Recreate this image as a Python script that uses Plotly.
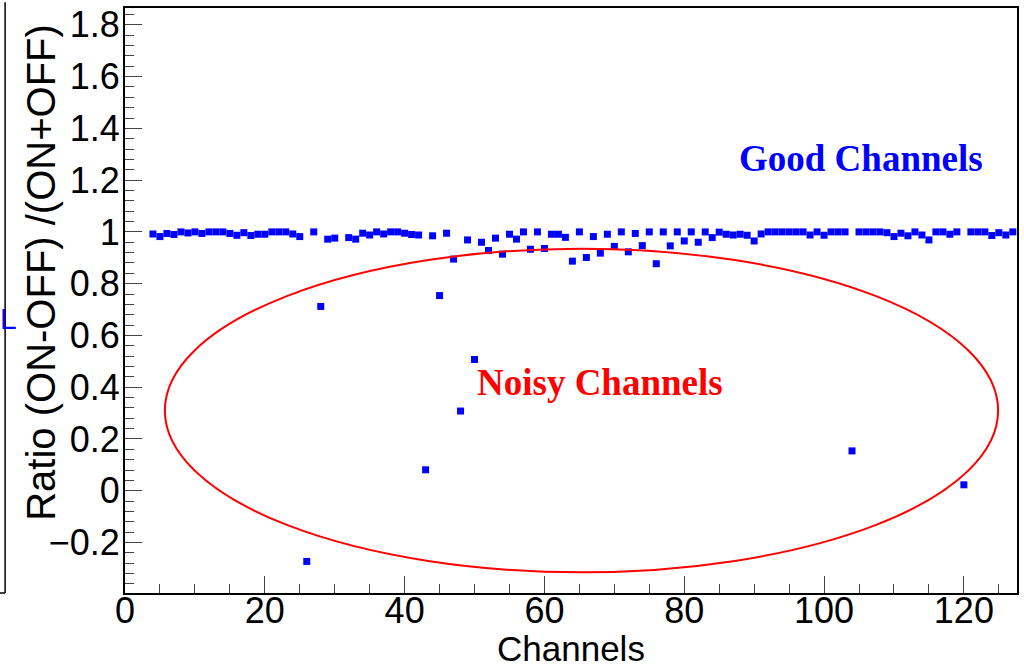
import plotly.graph_objects as go

# ---- data ----
channels = [4, 5, 6, 7, 8, 9, 10, 11, 12, 13, 14, 15, 16, 17, 18, 19, 20, 21, 22, 23,
            24, 25, 26, 27, 28, 29, 30, 32, 33, 34, 35, 36, 37, 38, 39, 40, 41, 42, 43, 44,
            45, 46, 47, 48, 49, 50, 51, 52, 53, 54, 55, 56, 57, 58, 59, 60, 61, 62, 63, 64,
            65, 66, 67, 68, 69, 70, 71, 72, 73, 74, 75, 76, 77, 78, 79, 80, 81, 82, 83, 84,
            85, 86, 87, 88, 89, 90, 91, 92, 93, 94, 95, 96, 97, 98, 99, 100, 101, 102, 103, 104,
            105, 106, 107, 108, 109, 110, 111, 112, 113, 114, 115, 116, 117, 118, 119, 120,
            121, 122, 123, 124, 125, 126, 127]
ratio = [0.992, 0.982, 0.994, 0.990, 1.000, 0.996, 1.000, 0.994, 1.000, 1.000, 1.000, 0.994, 0.987, 0.997, 0.986, 0.991, 0.991, 1.000, 1.000, 1.000,
         0.992, 0.982, -0.273, 1.000, 0.712, 0.972, 0.976, 0.978, 0.972, 0.995, 0.988, 1.000, 0.992, 1.000, 1.000, 0.995, 0.990, 0.988, 0.081, 0.985,
         0.754, 0.995, 0.895, 0.308, 0.969, 0.507, 0.960, 0.928, 0.976, 0.914, 0.991, 0.972, 1.000, 0.933, 1.000, 0.936, 0.991, 0.991, 0.979, 0.887,
         1.000, 0.901, 0.982, 0.918, 0.991, 0.944, 1.000, 0.923, 0.994, 0.947, 1.000, 0.877, 1.000, 0.946, 1.000, 0.965, 1.000, 0.960, 1.000, 0.978,
         0.999, 0.991, 0.988, 0.991, 0.987, 0.965, 0.992, 1.000, 1.000, 1.000, 1.000, 1.000, 1.000, 0.988, 1.000, 0.987, 1.000, 1.000, 1.000, 0.154,
         1.000, 1.000, 1.000, 1.000, 0.997, 0.982, 0.995, 0.985, 1.000, 0.988, 0.969, 1.000, 1.000, 0.991, 1.000, 0.023,
         1.000, 1.000, 1.000, 0.986, 0.997, 0.988, 1.000]

x_ticks = [0, 20, 40, 60, 80, 100, 120]
x_labels = ["0", "20", "40", "60", "80", "100", "120"]
y_ticks = [-0.2, 0, 0.2, 0.4, 0.6, 0.8, 1.0, 1.2, 1.4, 1.6, 1.8]
y_labels = ["\u22120.2", "0", "0.2", "0.4", "0.6", "0.8", "1", "1.2", "1.4", "1.6", "1.8"]

x_range = [0, 127.6]
y_range = [-0.395, 1.865]

# ellipse (data coords)
ell_x = [5.7, 124.9]
ell_y = [-0.315, 0.935]

good_label = "Good Channels"
good_pos = (105.3, 1.285)
noisy_label = "Noisy Channels"
noisy_pos = (68.0, 0.418)

fig = go.Figure()
fig.add_trace(go.Scatter(
    x=channels, y=ratio, mode="markers",
    marker=dict(symbol="square", size=7, color="#0000ff", line=dict(width=0)),
    showlegend=False, hoverinfo="x+y"))

fig.add_shape(type="circle", xref="x", yref="y",
              x0=ell_x[0], x1=ell_x[1], y0=ell_y[0], y1=ell_y[1],
              line=dict(color="#ff0000", width=2))

fig.add_annotation(x=good_pos[0], y=good_pos[1], xref="x", yref="y", text=good_label,
                   showarrow=False, font=dict(family="Liberation Serif", size=37, color="#0000ff", weight="bold"))
fig.add_annotation(x=noisy_pos[0], y=noisy_pos[1], xref="x", yref="y", text=noisy_label,
                   showarrow=False, font=dict(family="Liberation Serif", size=37, color="#ff0000", weight="bold"))

# axis titles
fig.add_annotation(x=-0.095, y=0.976, xref="paper", yref="paper", text="Ratio (ON-OFF) /(ON+OFF)",
                   textangle=-90, xanchor="center", yanchor="top", showarrow=False,
                   font=dict(family="Liberation Sans", size=40, color="black"))
fig.add_annotation(x=0.5, y=-0.1295, xref="paper", yref="paper", text="Channels",
                   xanchor="center", yanchor="bottom", showarrow=False, borderpad=0,
                   font=dict(family="Liberation Sans", size=35, color="black"))

# neighbouring pad edge on the left
fig.add_shape(type="line", xref="paper", yref="paper", x0=-0.1344, x1=-0.1344, y0=-0.0, y1=1.01,
              line=dict(color="black", width=1.5))
fig.add_shape(type="line", xref="paper", yref="paper", x0=-0.15, x1=-0.1344, y0=0.0, y1=0.0,
              line=dict(color="black", width=1.5))
fig.add_annotation(x=-0.1422, y=0.47, xref="paper", yref="paper", text="L", xanchor="left",
                   showarrow=False, font=dict(family="Liberation Sans", size=30, color="#0000ff"))

axis_font = dict(family="Liberation Sans", size=36, color="black")
fig.update_xaxes(range=x_range, tickmode="array", tickvals=x_ticks, ticktext=x_labels,
                 ticks="inside", ticklen=17, tickcolor="#444", tickwidth=1,
                 showline=True, linecolor="black", linewidth=2, mirror=True,
                 showgrid=False, zeroline=False, tickfont=axis_font, ticklabelstandoff=-15,
                 minor=dict(dtick=5, tick0=0, ticks="inside", ticklen=9, tickcolor="#444", showgrid=False))
fig.update_yaxes(range=y_range, tickmode="array", tickvals=y_ticks, ticktext=y_labels,
                 ticks="inside", ticklen=17, tickcolor="#444", tickwidth=1,
                 showline=True, linecolor="black", linewidth=2, mirror=True,
                 showgrid=False, zeroline=False, tickfont=axis_font, ticklabelstandoff=-4,
                 minor=dict(dtick=0.04, tick0=0, ticks="inside", ticklen=9, tickcolor="#444", showgrid=False))

fig.update_layout(width=1024, height=670, margin=dict(l=125, r=6, t=5, b=77),
                  plot_bgcolor="white", paper_bgcolor="white")

fig.write_html("out.html")
